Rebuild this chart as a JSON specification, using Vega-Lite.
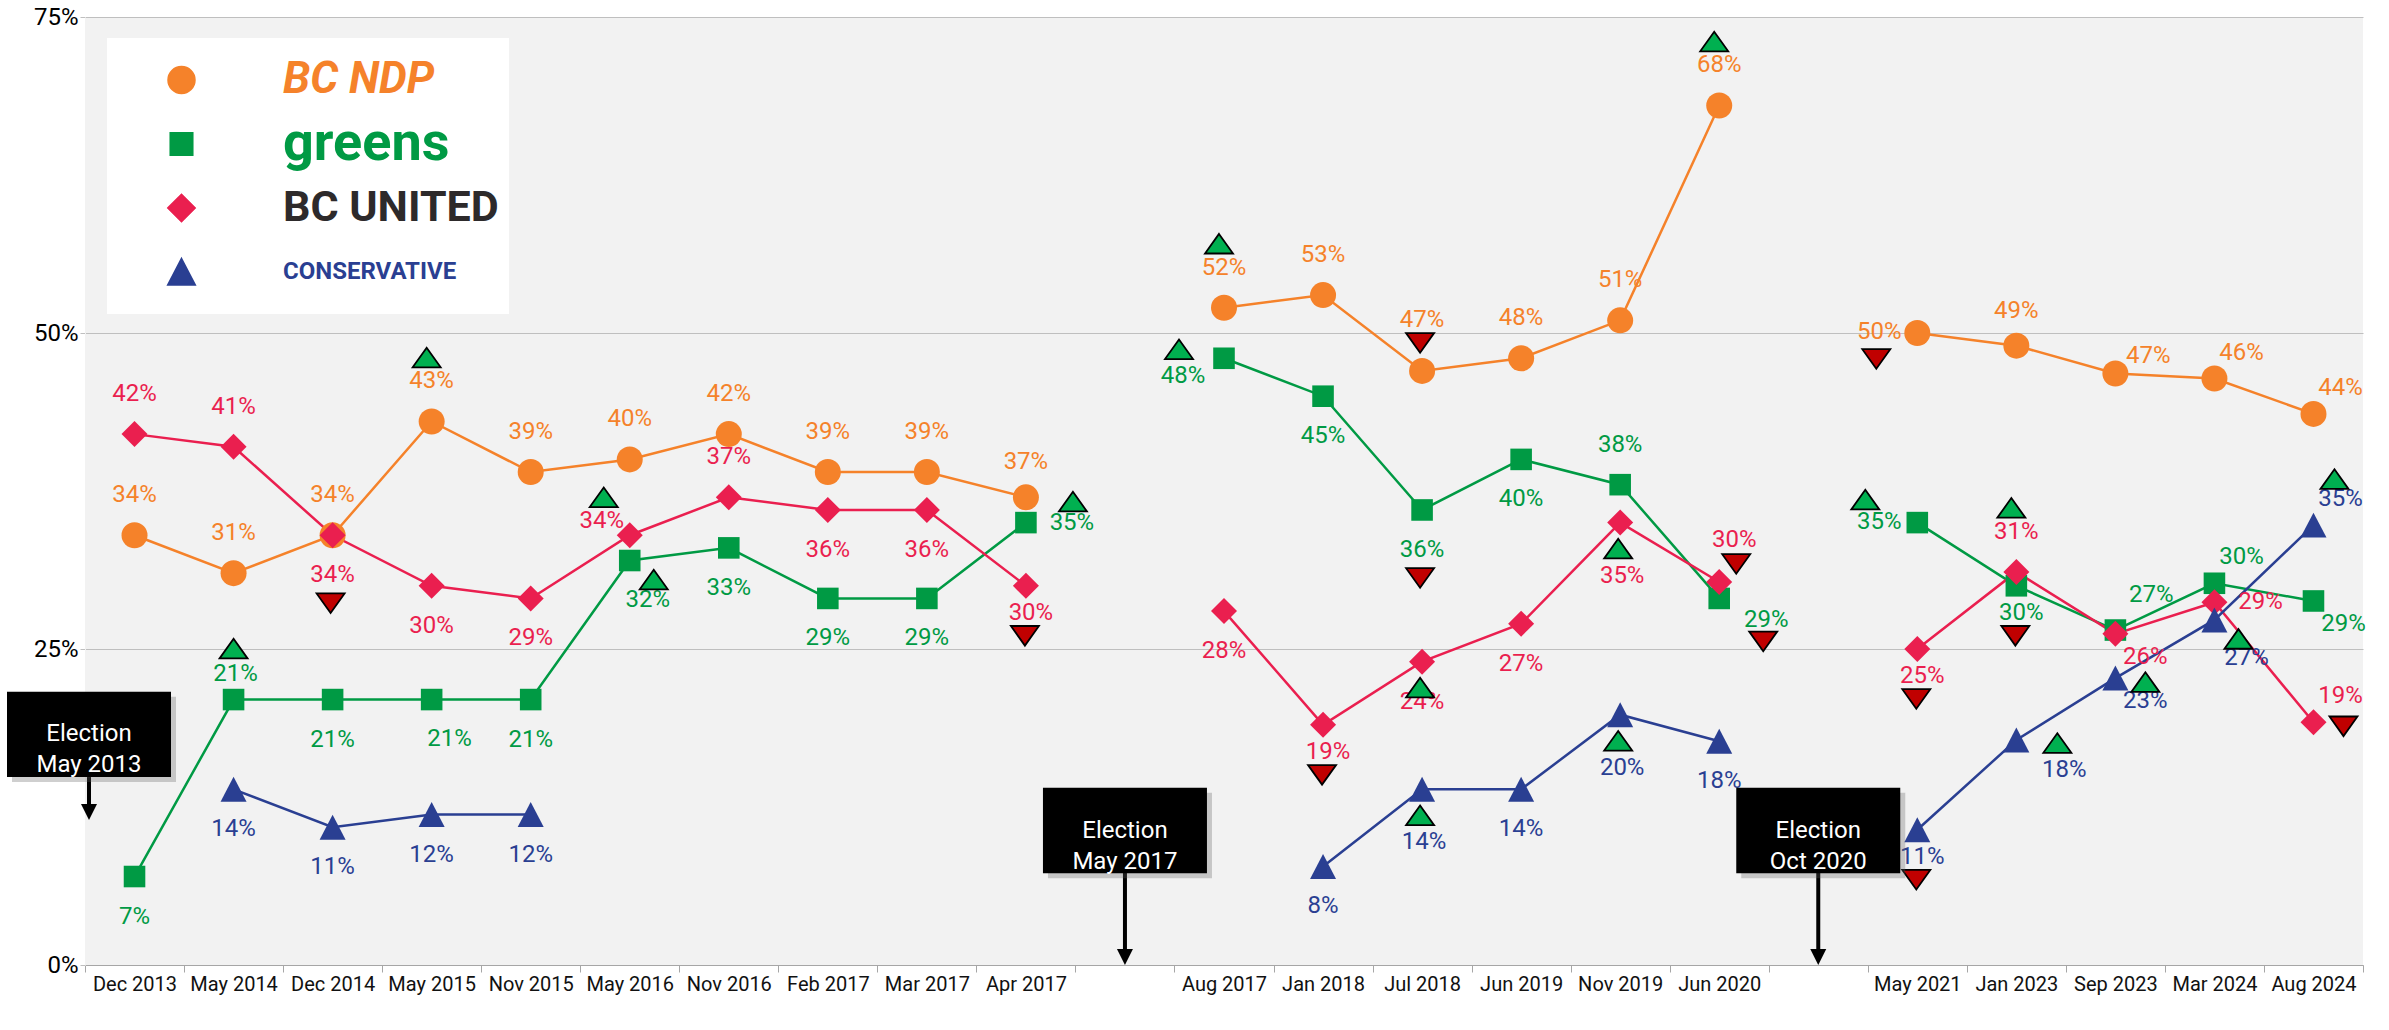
{
  "$schema": "https://vega.github.io/schema/vega-lite/v6.json",
  "width": 2278,
  "height": 948,
  "autosize": {"type": "none"},
  "padding": {"left": 85, "top": 17, "right": 26, "bottom": 65},
  "background": "white",
  "config": {"font": "Roboto", "view": {"fill": "#F2F2F2", "stroke": null}},
  "data": {"values": [
      {"party": "NDP", "period": "Dec 2013", "term": "2013", "v": 0.34},
      {"party": "NDP", "period": "May 2014", "term": "2013", "v": 0.31},
      {"party": "NDP", "period": "Dec 2014", "term": "2013", "v": 0.34},
      {"party": "NDP", "period": "May 2015", "term": "2013", "v": 0.43, "sig": "up"},
      {"party": "NDP", "period": "Nov 2015", "term": "2013", "v": 0.39},
      {"party": "NDP", "period": "May 2016", "term": "2013", "v": 0.40},
      {"party": "NDP", "period": "Nov 2016", "term": "2013", "v": 0.42},
      {"party": "NDP", "period": "Feb 2017", "term": "2013", "v": 0.39},
      {"party": "NDP", "period": "Mar 2017", "term": "2013", "v": 0.39},
      {"party": "NDP", "period": "Apr 2017", "term": "2013", "v": 0.37},
      {"party": "NDP", "period": "Aug 2017", "term": "2017", "v": 0.52, "sig": "up"},
      {"party": "NDP", "period": "Jan 2018", "term": "2017", "v": 0.53},
      {"party": "NDP", "period": "Jul 2018", "term": "2017", "v": 0.47, "sig": "down"},
      {"party": "NDP", "period": "Jun 2019", "term": "2017", "v": 0.48},
      {"party": "NDP", "period": "Nov 2019", "term": "2017", "v": 0.51},
      {"party": "NDP", "period": "Jun 2020", "term": "2017", "v": 0.68, "sig": "up"},
      {"party": "NDP", "period": "May 2021", "term": "2020", "v": 0.50, "sig": "down"},
      {"party": "NDP", "period": "Jan 2023", "term": "2020", "v": 0.49},
      {"party": "NDP", "period": "Sep 2023", "term": "2020", "v": 0.468},
      {"party": "NDP", "period": "Mar 2024", "term": "2020", "v": 0.464},
      {"party": "NDP", "period": "Aug 2024", "term": "2020", "v": 0.436},
      {"party": "Green", "period": "Dec 2013", "term": "2013", "v": 0.07},
      {"party": "Green", "period": "May 2014", "term": "2013", "v": 0.21, "sig": "up"},
      {"party": "Green", "period": "Dec 2014", "term": "2013", "v": 0.21},
      {"party": "Green", "period": "May 2015", "term": "2013", "v": 0.21},
      {"party": "Green", "period": "Nov 2015", "term": "2013", "v": 0.21},
      {"party": "Green", "period": "May 2016", "term": "2013", "v": 0.32, "sig": "up"},
      {"party": "Green", "period": "Nov 2016", "term": "2013", "v": 0.33},
      {"party": "Green", "period": "Feb 2017", "term": "2013", "v": 0.29},
      {"party": "Green", "period": "Mar 2017", "term": "2013", "v": 0.29},
      {"party": "Green", "period": "Apr 2017", "term": "2013", "v": 0.35, "sig": "up"},
      {"party": "Green", "period": "Aug 2017", "term": "2017", "v": 0.48, "sig": "up"},
      {"party": "Green", "period": "Jan 2018", "term": "2017", "v": 0.45},
      {"party": "Green", "period": "Jul 2018", "term": "2017", "v": 0.36, "sig": "down"},
      {"party": "Green", "period": "Jun 2019", "term": "2017", "v": 0.40},
      {"party": "Green", "period": "Nov 2019", "term": "2017", "v": 0.38},
      {"party": "Green", "period": "Jun 2020", "term": "2017", "v": 0.29, "sig": "down"},
      {"party": "Green", "period": "May 2021", "term": "2020", "v": 0.35, "sig": "up"},
      {"party": "Green", "period": "Jan 2023", "term": "2020", "v": 0.30, "sig": "down"},
      {"party": "Green", "period": "Sep 2023", "term": "2020", "v": 0.265},
      {"party": "Green", "period": "Mar 2024", "term": "2020", "v": 0.302},
      {"party": "Green", "period": "Aug 2024", "term": "2020", "v": 0.288},
      {"party": "United", "period": "Dec 2013", "term": "2013", "v": 0.42},
      {"party": "United", "period": "May 2014", "term": "2013", "v": 0.41},
      {"party": "United", "period": "Dec 2014", "term": "2013", "v": 0.34, "sig": "down"},
      {"party": "United", "period": "May 2015", "term": "2013", "v": 0.30},
      {"party": "United", "period": "Nov 2015", "term": "2013", "v": 0.29},
      {"party": "United", "period": "May 2016", "term": "2013", "v": 0.34, "sig": "up"},
      {"party": "United", "period": "Nov 2016", "term": "2013", "v": 0.37},
      {"party": "United", "period": "Feb 2017", "term": "2013", "v": 0.36},
      {"party": "United", "period": "Mar 2017", "term": "2013", "v": 0.36},
      {"party": "United", "period": "Apr 2017", "term": "2013", "v": 0.30, "sig": "down"},
      {"party": "United", "period": "Aug 2017", "term": "2017", "v": 0.28},
      {"party": "United", "period": "Jan 2018", "term": "2017", "v": 0.19, "sig": "down"},
      {"party": "United", "period": "Jul 2018", "term": "2017", "v": 0.24, "sig": "up"},
      {"party": "United", "period": "Jun 2019", "term": "2017", "v": 0.27},
      {"party": "United", "period": "Nov 2019", "term": "2017", "v": 0.35, "sig": "up"},
      {"party": "United", "period": "Jun 2020", "term": "2017", "v": 0.303, "sig": "down"},
      {"party": "United", "period": "May 2021", "term": "2020", "v": 0.25, "sig": "down"},
      {"party": "United", "period": "Jan 2023", "term": "2020", "v": 0.311, "sig": "up"},
      {"party": "United", "period": "Sep 2023", "term": "2020", "v": 0.262},
      {"party": "United", "period": "Mar 2024", "term": "2020", "v": 0.287},
      {"party": "United", "period": "Aug 2024", "term": "2020", "v": 0.192, "sig": "down"},
      {"party": "Conservative", "period": "May 2014", "term": "2013", "v": 0.139},
      {"party": "Conservative", "period": "Dec 2014", "term": "2013", "v": 0.109},
      {"party": "Conservative", "period": "May 2015", "term": "2013", "v": 0.119},
      {"party": "Conservative", "period": "Nov 2015", "term": "2013", "v": 0.119},
      {"party": "Conservative", "period": "Jan 2018", "term": "2017", "v": 0.078},
      {"party": "Conservative", "period": "Jul 2018", "term": "2017", "v": 0.139, "sig": "up"},
      {"party": "Conservative", "period": "Jun 2019", "term": "2017", "v": 0.139},
      {"party": "Conservative", "period": "Nov 2019", "term": "2017", "v": 0.198, "sig": "up"},
      {"party": "Conservative", "period": "Jun 2020", "term": "2017", "v": 0.177},
      {"party": "Conservative", "period": "May 2021", "term": "2020", "v": 0.107, "sig": "down"},
      {"party": "Conservative", "period": "Jan 2023", "term": "2020", "v": 0.178, "sig": "up"},
      {"party": "Conservative", "period": "Sep 2023", "term": "2020", "v": 0.227, "sig": "up"},
      {"party": "Conservative", "period": "Mar 2024", "term": "2020", "v": 0.273, "sig": "up"},
      {"party": "Conservative", "period": "Aug 2024", "term": "2020", "v": 0.348, "sig": "up"}
  ]},
  "encoding": {
    "x": {
      "field": "period", "type": "nominal",
      "scale": {"type": "band", "paddingInner": 0, "paddingOuter": 0,
        "domain": ["Dec 2013","May 2014","Dec 2014","May 2015","Nov 2015","May 2016","Nov 2016","Feb 2017","Mar 2017","Apr 2017"," ","Aug 2017","Jan 2018","Jul 2018","Jun 2019","Nov 2019","Jun 2020","  ","May 2021","Jan 2023","Sep 2023","Mar 2024","Aug 2024"]},
      "axis": {
        "title": null, "labelAngle": 0, "labelFontSize": 20, "labelColor": "#111111",
        "tickBand": "extent", "tickSize": 7, "tickColor": "#A6A6A6",
        "domainColor": "#A6A6A6", "grid": false
      }
    },
    "y": {
      "field": "v", "type": "quantitative",
      "scale": {"domain": [0, 0.75], "nice": false},
      "axis": {
        "title": null, "values": [0, 0.25, 0.5, 0.75], "format": ".0%",
        "labelFontSize": 24, "domainColor": "#F2F2F2", "tickColor": "#BFBFBF", "gridColor": "#BFBFBF"
      }
    }
  },
  "layer": [
    {
      "mark": {"type": "line", "strokeWidth": 2.5},
      "encoding": {
        "color": {
          "field": "party", "type": "nominal",
          "scale": {"domain": ["NDP", "Green", "United", "Conservative"], "range": ["#F5822A", "#009A44", "#EA1F4F", "#2A3F92"]},
          "legend": {
            "orient": "none", "legendX": 22, "legendY": 21, "title": null,
            "fillColor": "white", "padding": 10, "clipHeight": 64, "rowPadding": 0,
            "symbolOffset": 50, "labelOffset": 87, "labelLimit": 500,
            "symbolSize": 676, "symbolStrokeWidth": 2.5,
            "labelFont": "Roboto", "labelFontSize": 40, "labelFontWeight": "bold",
            "labelExpr": "datum.value == 'NDP' ? 'BC NDP' : datum.value == 'Green' ? 'greens' : datum.value == 'United' ? 'BC UNITED' : 'CONSERVATIVE'",
            "encode": {
              "symbols": {"update": {
                "shape": {"signal": "datum.value == 'NDP' ? 'M-2.9,0H2.9M-1,0A1,1 0 1,0 1,0A1,1 0 1,0 -1,0Z' : datum.value == 'Green' ? 'M-2.9,0H2.9M-0.85,-0.85H0.85V0.85H-0.85Z' : datum.value == 'United' ? 'M-2.9,0H2.9M-1,0L0,-1L1,0L0,1Z' : 'M-2.9,0H2.9M0,-0.96L1,0.96H-1Z'"},
                "fill": {"signal": "datum.value == 'NDP' ? '#F5822A' : datum.value == 'Green' ? '#009A44' : datum.value == 'United' ? '#EA1F4F' : '#2A3F92'"},
                "stroke": {"signal": "datum.value == 'NDP' ? '#F5822A' : datum.value == 'Green' ? '#009A44' : datum.value == 'United' ? '#EA1F4F' : '#2A3F92'"},
                "strokeWidth": {"value": 2.5},
                "size": {"value": 676},
                "opacity": {"value": 1}
              }},
              "labels": {"update": {
                "fontSize": {"signal": "datum.value == 'NDP' ? 44 : datum.value == 'Green' ? 54 : datum.value == 'United' ? 43 : 24"},
                "fontStyle": {"signal": "datum.value == 'NDP' ? 'italic' : 'normal'"},
                "fill": {"signal": "datum.value == 'NDP' ? '#F5822A' : datum.value == 'Green' ? '#009A44' : datum.value == 'United' ? '#2D2A2B' : '#2A3F92'"}
              }}
            }
          }
        },
        "detail": {"field": "term", "type": "nominal"},
        "order": {"value": null}
      }
    },
    {
      "mark": {"type": "point", "filled": true, "opacity": 1, "size": 676},
      "encoding": {
        "color": {"field": "party", "type": "nominal", "legend": null},
        "shape": {"field": "party", "type": "nominal", "legend": null,
          "scale": {"domain": ["NDP", "Green", "United", "Conservative"], "range": ["circle", "M-0.83,-0.83H0.83V0.83H-0.83Z", "diamond", "M0,-0.96L1,0.96L-1,0.96Z"]}}
      }
    },
    {
      "encoding": {
        "text": {"field": "v", "type": "quantitative", "format": ".0%"},
        "color": {"field": "party", "type": "nominal", "legend": null}
      },
      "layer": [
        {"transform": [{"filter": "(datum.party == 'NDP' || indexof(['Green|Nov 2019','United|Dec 2013','United|May 2014','United|Nov 2016','United|Jan 2023'], datum.party + '|' + datum.period) >= 0) && indexof(['NDP|Jul 2018','NDP|Jan 2023','NDP|Apr 2017','NDP|May 2021','NDP|Sep 2023','NDP|Mar 2024','NDP|Aug 2024'], datum.party + '|' + datum.period) < 0"}],
         "mark": {"type": "text", "fontSize": 24, "dy": -40}},
        {"transform": [{"filter": "datum.party != 'NDP' && indexof(['Green|Nov 2019','United|Dec 2013','United|May 2014','United|Nov 2016','United|Jan 2023','Green|May 2021','Green|Mar 2024','Conservative|Aug 2024','United|Aug 2024','Green|Sep 2023','Green|May 2014','Green|May 2015','Green|May 2016','Green|Apr 2017','United|Mar 2024','Green|Aug 2017','Green|Jun 2020','Green|Jan 2023','United|Apr 2017','United|Jan 2018','United|May 2021','Conservative|May 2021','United|May 2016','United|Nov 2019','Conservative|Jul 2018','Conservative|Nov 2019','United|Jun 2020','United|Sep 2023','Conservative|Sep 2023','Green|Aug 2024','Conservative|Jan 2023','Conservative|Mar 2024'], datum.party + '|' + datum.period) < 0"}],
         "mark": {"type": "text", "fontSize": 24, "dy": 40}},
        {"transform": [{"filter": "datum.party + '|' + datum.period == 'NDP|Jul 2018'"}],
         "mark": {"type": "text", "fontSize": 24, "dy": -51}},
        {"transform": [{"filter": "indexof(['NDP|Jan 2023','NDP|Apr 2017'], datum.party + '|' + datum.period) >= 0"}],
         "mark": {"type": "text", "fontSize": 24, "dy": -35}},
        {"transform": [{"filter": "indexof(['NDP|May 2021','Green|May 2021'], datum.party + '|' + datum.period) >= 0"}],
         "mark": {"type": "text", "fontSize": 24, "dx": -38, "dy": -1}},
        {"transform": [{"filter": "indexof(['NDP|Mar 2024','NDP|Aug 2024','Green|Mar 2024','Conservative|Aug 2024','United|Aug 2024'], datum.party + '|' + datum.period) >= 0"}],
         "mark": {"type": "text", "fontSize": 24, "dx": 27, "dy": -26}},
        {"transform": [{"filter": "datum.party + '|' + datum.period == 'NDP|Sep 2023'"}],
         "mark": {"type": "text", "fontSize": 24, "dx": 33, "dy": -17}},
        {"transform": [{"filter": "datum.party + '|' + datum.period == 'Green|Sep 2023'"}],
         "mark": {"type": "text", "fontSize": 24, "dx": 36, "dy": -35}},
        {"transform": [{"filter": "datum.party + '|' + datum.period == 'Green|May 2014'"}],
         "mark": {"type": "text", "fontSize": 24, "dx": 2, "dy": -26}},
        {"transform": [{"filter": "indexof(['Green|May 2015','Green|May 2016'], datum.party + '|' + datum.period) >= 0"}],
         "mark": {"type": "text", "fontSize": 24, "dx": 18, "dy": 39}},
        {"transform": [{"filter": "indexof(['Green|Apr 2017','United|Mar 2024'], datum.party + '|' + datum.period) >= 0"}],
         "mark": {"type": "text", "fontSize": 24, "dx": 46, "dy": 0}},
        {"transform": [{"filter": "datum.party + '|' + datum.period == 'Green|Aug 2017'"}],
         "mark": {"type": "text", "fontSize": 24, "dx": -41, "dy": 18}},
        {"transform": [{"filter": "datum.party + '|' + datum.period == 'Green|Jun 2020'"}],
         "mark": {"type": "text", "fontSize": 24, "dx": 47, "dy": 22}},
        {"transform": [{"filter": "indexof(['Green|Jan 2023','United|Apr 2017','United|Jan 2018','United|May 2021','Conservative|May 2021'], datum.party + '|' + datum.period) >= 0"}],
         "mark": {"type": "text", "fontSize": 24, "dx": 5, "dy": 27}},
        {"transform": [{"filter": "datum.party + '|' + datum.period == 'United|May 2016'"}],
         "mark": {"type": "text", "fontSize": 24, "dx": -28, "dy": -14}},
        {"transform": [{"filter": "indexof(['United|Nov 2019','Conservative|Jul 2018','Conservative|Nov 2019'], datum.party + '|' + datum.period) >= 0"}],
         "mark": {"type": "text", "fontSize": 24, "dx": 2, "dy": 53}},
        {"transform": [{"filter": "datum.party + '|' + datum.period == 'United|Jun 2020'"}],
         "mark": {"type": "text", "fontSize": 24, "dx": 15, "dy": -42}},
        {"transform": [{"filter": "indexof(['United|Sep 2023','Conservative|Sep 2023','Green|Aug 2024'], datum.party + '|' + datum.period) >= 0"}],
         "mark": {"type": "text", "fontSize": 24, "dx": 30, "dy": 23}},
        {"transform": [{"filter": "datum.party + '|' + datum.period == 'Conservative|Jan 2023'"}],
         "mark": {"type": "text", "fontSize": 24, "dx": 48, "dy": 30}},
        {"transform": [{"filter": "datum.party + '|' + datum.period == 'Conservative|Mar 2024'"}],
         "mark": {"type": "text", "fontSize": 24, "dx": 32, "dy": 38}}
      ]
    },
    {
      "transform": [{"filter": "datum.sig == 'up' || datum.sig == 'down'"}],
      "encoding": {
        "shape": {"condition": {"test": "datum.sig == 'up'", "value": "M0,-0.7L1,0.7L-1,0.7Z"}, "value": "M-1,-0.7L1,-0.7L0,0.7Z"},
        "fill": {"condition": {"test": "datum.sig == 'up'", "value": "#00B050"}, "value": "#C00000"}
      },
      "layer": [
        {"transform": [{"filter": "indexof(['NDP|May 2015','NDP|Aug 2017','NDP|Jun 2020','United|Jan 2023'], datum.party + '|' + datum.period) >= 0"}],
         "mark": {"type": "point", "filled": true, "opacity": 1, "size": 784, "stroke": "#000000", "strokeWidth": 1.8, "xOffset": -5, "yOffset": -64}},
        {"transform": [{"filter": "datum.party + '|' + datum.period == 'Green|May 2014'"}],
         "mark": {"type": "point", "filled": true, "opacity": 1, "size": 784, "stroke": "#000000", "strokeWidth": 1.8, "xOffset": 0, "yOffset": -51}},
        {"transform": [{"filter": "indexof(['United|Apr 2017','United|Jan 2018','United|May 2021','Conservative|May 2021','Green|Jan 2023'], datum.party + '|' + datum.period) >= 0"}],
         "mark": {"type": "point", "filled": true, "opacity": 1, "size": 784, "stroke": "#000000", "strokeWidth": 1.8, "xOffset": -1, "yOffset": 50}},
        {"transform": [{"filter": "indexof(['United|Dec 2014','Green|Jul 2018'], datum.party + '|' + datum.period) >= 0"}],
         "mark": {"type": "point", "filled": true, "opacity": 1, "size": 784, "stroke": "#000000", "strokeWidth": 1.8, "xOffset": -2, "yOffset": 68}},
        {"transform": [{"filter": "indexof(['United|Jul 2018','Conservative|Jul 2018','Conservative|Nov 2019','United|Nov 2019'], datum.party + '|' + datum.period) >= 0"}],
         "mark": {"type": "point", "filled": true, "opacity": 1, "size": 784, "stroke": "#000000", "strokeWidth": 1.8, "xOffset": -2, "yOffset": 26}},
        {"transform": [{"filter": "datum.party + '|' + datum.period == 'NDP|Jul 2018'"}],
         "mark": {"type": "point", "filled": true, "opacity": 1, "size": 784, "stroke": "#000000", "strokeWidth": 1.8, "xOffset": -2, "yOffset": -28}},
        {"transform": [{"filter": "datum.party + '|' + datum.period == 'United|May 2016'"}],
         "mark": {"type": "point", "filled": true, "opacity": 1, "size": 784, "stroke": "#000000", "strokeWidth": 1.8, "xOffset": -26, "yOffset": -38}},
        {"transform": [{"filter": "indexof(['Green|May 2016','Conservative|Mar 2024'], datum.party + '|' + datum.period) >= 0"}],
         "mark": {"type": "point", "filled": true, "opacity": 1, "size": 784, "stroke": "#000000", "strokeWidth": 1.8, "xOffset": 24, "yOffset": 19}},
        {"transform": [{"filter": "datum.party + '|' + datum.period == 'Green|Apr 2017'"}],
         "mark": {"type": "point", "filled": true, "opacity": 1, "size": 784, "stroke": "#000000", "strokeWidth": 1.8, "xOffset": 47, "yOffset": -21}},
        {"transform": [{"filter": "datum.party + '|' + datum.period == 'Green|Aug 2017'"}],
         "mark": {"type": "point", "filled": true, "opacity": 1, "size": 784, "stroke": "#000000", "strokeWidth": 1.8, "xOffset": -45, "yOffset": -9}},
        {"transform": [{"filter": "datum.party + '|' + datum.period == 'United|Jun 2020'"}],
         "mark": {"type": "point", "filled": true, "opacity": 1, "size": 784, "stroke": "#000000", "strokeWidth": 1.8, "xOffset": 17, "yOffset": -18}},
        {"transform": [{"filter": "datum.party + '|' + datum.period == 'Green|Jun 2020'"}],
         "mark": {"type": "point", "filled": true, "opacity": 1, "size": 784, "stroke": "#000000", "strokeWidth": 1.8, "xOffset": 44, "yOffset": 43}},
        {"transform": [{"filter": "datum.party + '|' + datum.period == 'NDP|May 2021'"}],
         "mark": {"type": "point", "filled": true, "opacity": 1, "size": 784, "stroke": "#000000", "strokeWidth": 1.8, "xOffset": -41, "yOffset": 26}},
        {"transform": [{"filter": "datum.party + '|' + datum.period == 'Green|May 2021'"}],
         "mark": {"type": "point", "filled": true, "opacity": 1, "size": 784, "stroke": "#000000", "strokeWidth": 1.8, "xOffset": -52, "yOffset": -23}},
        {"transform": [{"filter": "datum.party + '|' + datum.period == 'Conservative|Jan 2023'"}],
         "mark": {"type": "point", "filled": true, "opacity": 1, "size": 784, "stroke": "#000000", "strokeWidth": 1.8, "xOffset": 41, "yOffset": 3}},
        {"transform": [{"filter": "indexof(['Conservative|Sep 2023','United|Aug 2024'], datum.party + '|' + datum.period) >= 0"}],
         "mark": {"type": "point", "filled": true, "opacity": 1, "size": 784, "stroke": "#000000", "strokeWidth": 1.8, "xOffset": 30, "yOffset": 4}},
        {"transform": [{"filter": "datum.party + '|' + datum.period == 'Conservative|Aug 2024'"}],
         "mark": {"type": "point", "filled": true, "opacity": 1, "size": 784, "stroke": "#000000", "strokeWidth": 1.8, "xOffset": 21, "yOffset": -46}}
      ]
    },
    {
      "data": {"values": [
        {"period": " ", "text": "Election\nMay 2017", "v": 0.1064, "lo": 0.0728, "tip": 0.01, "head": 0},
        {"period": "  ", "text": "Election\nOct 2020", "v": 0.1064, "lo": 0.0728, "tip": 0.01, "head": 0}
      ]},
      "layer": [
        {"mark": {"type": "rule", "color": "#000000", "strokeWidth": 4},
         "encoding": {"y": {"field": "lo", "type": "quantitative"}, "y2": {"field": "tip"}}},
        {"mark": {"type": "point", "filled": true, "opacity": 1, "size": 256, "shape": "M-1,-1H1L0,1Z", "color": "#000000", "yOffset": -8},
         "encoding": {"y": {"field": "head", "type": "quantitative"}}},
        {"mark": {"type": "point", "filled": true, "opacity": 0.3, "size": 6724, "shape": "M-2,-1.04H2V1.04H-2Z", "color": "#606060", "xOffset": 5, "yOffset": 5}},
        {"mark": {"type": "point", "filled": true, "opacity": 1, "size": 6724, "shape": "M-2,-1.04H2V1.04H-2Z", "color": "#000000"}},
        {"mark": {"type": "text", "color": "white", "fontSize": 24, "lineBreak": "\n", "lineHeight": 31, "align": "center", "baseline": "middle"},
         "encoding": {"text": {"field": "text"}}}
      ]
    },
    {
      "data": {"values": [{"period": "Dec 2013", "text": "Election\nMay 2013", "v": 0.1824, "lo": 0.1487, "tip": 0.124, "head": 0.1147}]},
      "encoding": {"x": {"field": "period", "type": "nominal", "bandPosition": 0}},
      "layer": [
        {"mark": {"type": "rule", "color": "#000000", "strokeWidth": 4, "xOffset": 4},
         "encoding": {"y": {"field": "lo", "type": "quantitative"}, "y2": {"field": "tip"}}},
        {"mark": {"type": "point", "filled": true, "opacity": 1, "size": 256, "shape": "M-1,-1H1L0,1Z", "color": "#000000", "yOffset": -8, "xOffset": 4},
         "encoding": {"y": {"field": "head", "type": "quantitative"}}},
        {"mark": {"type": "point", "filled": true, "opacity": 0.3, "size": 6724, "shape": "M-2,-1.04H2V1.04H-2Z", "color": "#606060", "xOffset": 9, "yOffset": 5}},
        {"mark": {"type": "point", "filled": true, "opacity": 1, "size": 6724, "shape": "M-2,-1.04H2V1.04H-2Z", "color": "#000000", "xOffset": 4}},
        {"mark": {"type": "text", "color": "white", "fontSize": 24, "lineBreak": "\n", "lineHeight": 31, "align": "center", "baseline": "middle", "xOffset": 4},
         "encoding": {"text": {"field": "text"}}}
      ]
    }
  ]
}
